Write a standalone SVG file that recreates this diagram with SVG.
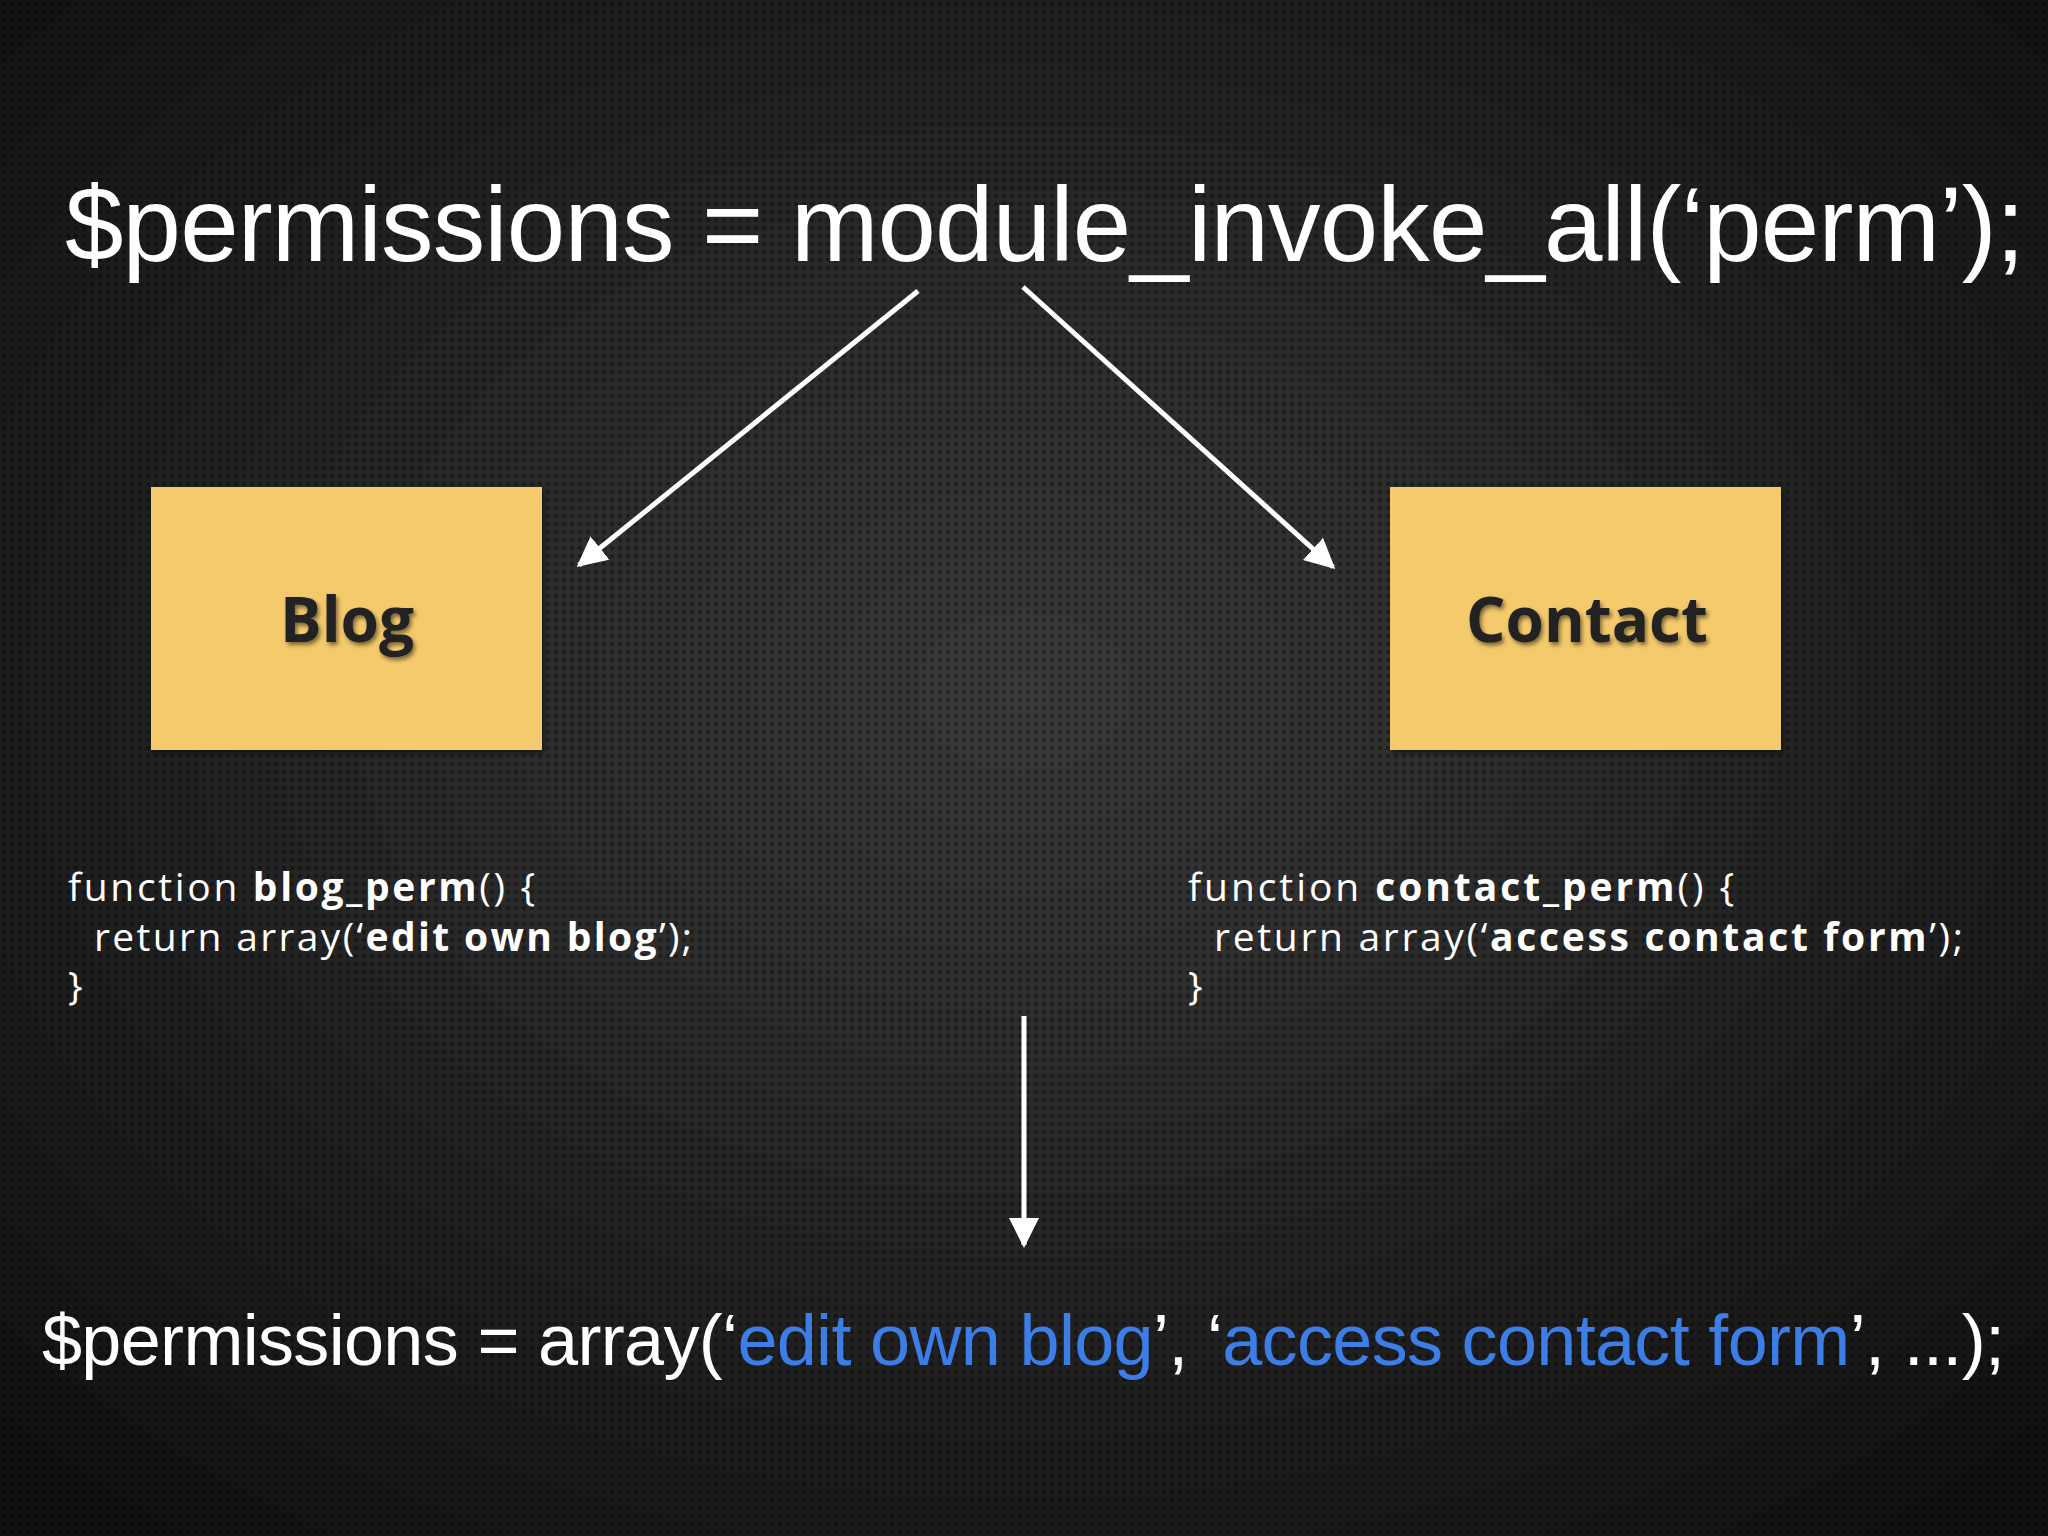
<svg xmlns="http://www.w3.org/2000/svg" width="2048" height="1536" viewBox="0 0 2048 1536">
<defs>
<radialGradient id="bg" cx="50%" cy="45%" r="70%"><stop offset="0" stop-color="#3a3a3a"/><stop offset="1" stop-color="#111"/></radialGradient>
<pattern id="dots" width="8" height="8" patternUnits="userSpaceOnUse"><circle cx="4" cy="4" r="2.2" fill="#000" opacity="0.35"/></pattern>
<marker id="ah" viewBox="0 0 10 10" refX="9" refY="5" markerWidth="6" markerHeight="6" orient="auto" markerUnits="strokeWidth"><path d="M0,0 L10,5 L0,10 z" fill="#fff"/></marker>
<filter id="sh"><feDropShadow dx="2" dy="3" stdDeviation="2" flood-color="#000" flood-opacity="0.5"/></filter>
</defs>
<style>
.t{font-family:"Liberation Sans",Arial,sans-serif;fill:#fff}
.c{font-family:"Open Sans","Liberation Sans",sans-serif;fill:#fff;font-size:39px}
.b{font-weight:bold}
.box{fill:#f5ca6c}
.lbl{font-family:"Open Sans","Liberation Sans",sans-serif;font-weight:bold;font-size:62px;fill:#222;text-anchor:middle}
.ln{stroke:#fff;stroke-width:5;fill:none;marker-end:url(#ah)}
.blue{fill:#3d7de6}
</style>
<rect width="2048" height="1536" fill="url(#bg)"/>
<rect width="2048" height="1536" fill="url(#dots)"/>
<text class="t" x="65" y="261" font-size="105" textLength="1960">$permissions = module_invoke_all(‘perm’);</text>
<g id="connectors">
<line class="ln" x1="918" y1="291" x2="579" y2="565"/>
<line class="ln" x1="1023" y1="287" x2="1333" y2="567"/>
<line class="ln" x1="1024" y1="1016" x2="1024" y2="1245"/>
</g>
<g id="blog"><rect class="box" x="151" y="487" width="391" height="263" filter="url(#sh)"/><text class="lbl" x="347" y="642" filter="url(#sh)">Blog</text></g>
<g id="contact"><rect class="box" x="1390" y="487" width="391" height="263" filter="url(#sh)"/><text class="lbl" x="1587" y="642" filter="url(#sh)">Contact</text></g>
<g id="blogcode">
<text class="c" x="68" y="901" textLength="467">function <tspan class="b">blog_perm</tspan>() {</text>
<text class="c" x="94" y="951" textLength="598">return array(‘<tspan class="b">edit own blog</tspan>’);</text>
<text class="c" x="68" y="1000">}</text>
</g>
<g id="contactcode">
<text class="c" x="1188" y="901" textLength="546">function <tspan class="b">contact_perm</tspan>() {</text>
<text class="c" x="1214" y="951" textLength="749">return array(‘<tspan class="b">access contact form</tspan>’);</text>
<text class="c" x="1188" y="1000">}</text>
</g>
<text class="t" x="42" y="1365" font-size="72" textLength="1963">$permissions = array(‘<tspan class="blue">edit own blog</tspan>’, ‘<tspan class="blue">access contact form</tspan>’, ...);</text>
</svg>
